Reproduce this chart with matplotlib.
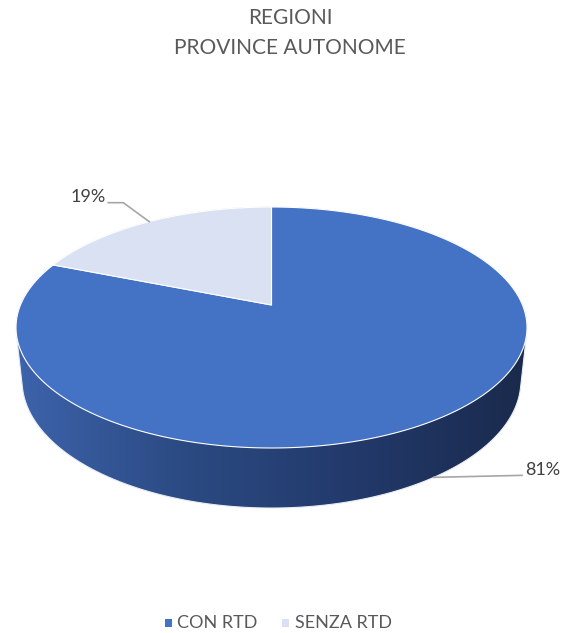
import numpy as np
import matplotlib
matplotlib.use('Agg')
import matplotlib.pyplot as plt
from matplotlib.patches import Polygon
from matplotlib.colors import LinearSegmentedColormap

# data
categories = ['CON RTD', 'SENZA RTD']
shares = [81, 19]
labels = ['81%', '19%']
title_lines = ['REGIONI', 'PROVINCE AUTONOME']

top_colors = ['#4472c4', '#d9e1f2']
text_color = '#595959'
plt.rcParams['font.family'] = ['Lato', 'DejaVu Sans']

# 3d pie view (pixels): centre, scale, tilt, perspective, thickness
CX, CY, K = 271.5, 305.0, 251.0
TILT = np.radians(27.6)
RHO = 0.2107
THICK = 0.241


def project(theta_deg, h=0.0):
    """perspective projection of a rim point; h=0 top face, h=THICK bottom face"""
    t = np.radians(np.asarray(theta_deg, dtype=float))
    s, c = np.sin(TILT), np.cos(TILT)
    u = np.sin(t)
    up = u * s - h * c
    depth = u * c + h * s
    f = 1.0 / (1.0 + RHO * depth)
    return np.column_stack([CX + K * np.cos(t) * f, CY - K * up * f])


def hull(pts):
    pts = sorted(map(tuple, pts))
    def cross(o, a, b):
        return (a[0] - o[0]) * (b[1] - o[1]) - (a[1] - o[1]) * (b[0] - o[0])
    lower, upper = [], []
    for p in pts:
        while len(lower) >= 2 and cross(lower[-2], lower[-1], p) <= 0:
            lower.pop()
        lower.append(p)
    for p in reversed(pts):
        while len(upper) >= 2 and cross(upper[-2], upper[-1], p) <= 0:
            upper.pop()
        upper.append(p)
    return np.array(lower[:-1] + upper[:-1])


def main():
    fig = plt.figure(figsize=(5.64, 6.33), dpi=100)
    ax = fig.add_axes([0, 0, 1, 1])
    ax.set_xlim(0, 564)
    ax.set_ylim(633, 0)
    ax.axis('off')

    # side wall: outline of the whole cylinder, top face is painted over it
    ring = np.linspace(0, 360, 721)
    body = hull(np.vstack([project(ring), project(ring, THICK)]))
    side = Polygon(body, closed=True, facecolor='none', edgecolor='#e8ecf4', lw=0.8, zorder=2)
    ax.add_patch(side)
    cmap = LinearSegmentedColormap.from_list('side', ['#3d63ab', '#2b4a82', '#22396a', '#1a2a4c'])
    grad = np.linspace(0, 1, 256).reshape(1, -1)
    x0, x1 = body[:, 0].min(), body[:, 0].max()
    y0, y1 = body[:, 1].min(), body[:, 1].max()
    im = ax.imshow(grad, cmap=cmap, extent=(x0, x1, y1, y0), aspect='auto', zorder=1)
    im.set_clip_path(side)

    # top face wedges, starting at 12 o'clock going clockwise
    start = 90.0
    mids = []
    for val, col in zip(shares, top_colors):
        end = start - val / sum(shares) * 360
        pts = project(np.linspace(start, end, 300))
        ax.add_patch(Polygon(np.vstack([[CX, CY], pts]), closed=True,
                             facecolor=col, edgecolor='white', lw=0.8, zorder=3))
        mids.append((start + end) / 2)
        start = end

    # data labels with leader lines
    lc = '#a6a6a6'
    ax_, ay_ = project([mids[0]], THICK)[0]
    ax.plot([ax_, 522], [ay_, ay_ - 2], color=lc, lw=1.2, zorder=4)
    ax.text(525, ay_ - 7, labels[0], ha='left', va='center', fontsize=13, color='#404040')
    bx, by = project([mids[1]])[0]
    ax.plot([bx, bx - 26, bx - 41], [by, by - 19, by - 19], color=lc, lw=1.2, zorder=4)
    ax.text(bx - 44, by - 25, labels[1], ha='right', va='center', fontsize=13, color='#404040')

    # title
    ax.text(290, 18, title_lines[0], ha='center', va='center', fontsize=15, color=text_color)
    ax.text(290, 48, title_lines[1], ha='center', va='center', fontsize=15, color=text_color)

    # legend
    ax.scatter([168.5, 285.5], [623, 623], marker='s', s=28, c=top_colors, linewidths=0, zorder=5)
    ax.text(177, 631, categories[0], ha='left', va='bottom', fontsize=13, color=text_color)
    ax.text(295, 631, categories[1], ha='left', va='bottom', fontsize=13, color=text_color)

    fig.savefig('out.png', dpi=100, facecolor='white')


if __name__ == '__main__':
    main()
